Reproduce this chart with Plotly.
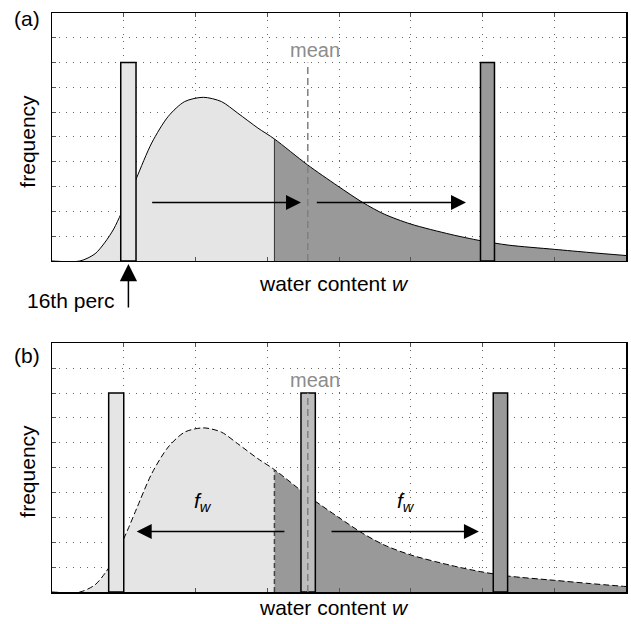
import plotly.graph_objects as go

# ---- data ----
curve_x = [0, 0.39, 0.6, 0.74, 0.86, 0.96, 1.07, 1.18, 1.39, 1.62, 1.85, 2.11, 2.36,
           2.59, 2.87, 3.1, 3.56, 3.98, 4.33, 4.63, 5.0, 5.56, 5.97, 6.36, 7.0, 7.5, 8.0]
curve_y = [0, 0, 0.29, 0.76, 1.29, 1.89, 2.6, 3.36, 4.76, 5.83, 6.43, 6.6, 6.43,
           5.96, 5.36, 4.92, 3.88, 3.03, 2.36, 1.89, 1.49, 1.07, 0.82, 0.64, 0.47, 0.34, 0.22]
threshold = 3.1
mean_w = 3.565

# bars: (left, right, height, colour)
bars_a = [(0.958, 1.171, 8, "#e5e5e5"), (5.972, 6.167, 8, "#999999")]
bars_b = [(0.79, 1.0, 8, "#e5e5e5"), (3.47, 3.67, 8, "#bdbdbd"), (6.15, 6.35, 8, "#999999")]

# arrows: (tail_x, tip_x, y)
arrows_a = [(1.375, 3.47, 2.36), (3.67, 5.77, 2.36)]
arrows_b = [(3.26, 1.18, 2.43), (3.875, 5.95, 2.43)]
perc16_x = 1.065

fw_pos = [(2.11, 3.63), (4.93, 3.63)]
mean_label = (3.667, 8.52)

x_grid = [1, 2, 3, 4, 5, 6, 7]
y_grid = [1, 2, 3, 4, 5, 6, 7, 8, 9]

LIGHT = "#e5e5e5"
DARK = "#999999"
FONT = "Liberation Sans, Arial, Helvetica, sans-serif"

k = curve_x.index(threshold)
left_x, left_y = curve_x[:k + 1], curve_y[:k + 1]
right_x, right_y = curve_x[k:], curve_y[k:]

fig = go.Figure()

for xa, ya, dash in (("x", "y", "solid"), ("x2", "y2", "6px,3px")):
    fig.add_trace(go.Scatter(x=left_x, y=left_y, xaxis=xa, yaxis=ya, mode="lines",
                             line=dict(width=0, shape="spline", smoothing=0.8),
                             fill="tozeroy", fillcolor=LIGHT, hoverinfo="skip"))
    fig.add_trace(go.Scatter(x=right_x, y=right_y, xaxis=xa, yaxis=ya, mode="lines",
                             line=dict(width=0, shape="spline", smoothing=0.8),
                             fill="tozeroy", fillcolor=DARK, hoverinfo="skip"))
    fig.add_trace(go.Scatter(x=curve_x, y=curve_y, xaxis=xa, yaxis=ya, mode="lines",
                             line=dict(width=1, color="black", shape="spline",
                                       smoothing=0.8, dash=dash),
                             hoverinfo="skip"))

shapes = []
shapes.append(dict(type="line", xref="x", yref="y", x0=threshold, x1=threshold,
                   y0=0, y1=curve_y[k], line=dict(color="#333333", width=1), layer="above"))
shapes.append(dict(type="line", xref="x2", yref="y2", x0=threshold, x1=threshold,
                   y0=0, y1=curve_y[k], line=dict(color="#444444", width=1.5, dash="5px,3px"),
                   layer="above"))
for (x0, x1, h, c) in bars_a:
    shapes.append(dict(type="rect", xref="x", yref="y", x0=x0, x1=x1, y0=0, y1=h,
                       fillcolor=c, line=dict(color="black", width=1.5), layer="above"))
for (x0, x1, h, c) in bars_b:
    shapes.append(dict(type="rect", xref="x2", yref="y2", x0=x0, x1=x1, y0=0, y1=h,
                       fillcolor=c, line=dict(color="black", width=1.5), layer="above"))
shapes.append(dict(type="line", xref="x", yref="y", x0=mean_w, x1=mean_w, y0=0, y1=8,
                   line=dict(color="#808080", width=1.5, dash="7px,4px"), layer="above"))
shapes.append(dict(type="line", xref="x2", yref="y2", x0=mean_w, x1=mean_w, y0=0, y1=8,
                   line=dict(color="#808080", width=1.5, dash="7px,4px"), layer="above"))


def txt(x, y, text, xref="paper", yref="paper", size=21, color="black", **kw):
    d = dict(x=x, y=y, xref=xref, yref=yref, text=text, showarrow=False,
             xanchor="center", yanchor="middle", font=dict(size=size, color=color))
    d.update(kw)
    return d


annotations = []
for (t, h, y) in arrows_a:
    annotations.append(dict(x=h, y=y, ax=t, ay=y, xref="x", yref="y", axref="x", ayref="y",
                            text="", showarrow=True, arrowhead=2, arrowsize=2.0,
                            arrowwidth=1.5, arrowcolor="black"))
for (t, h, y) in arrows_b:
    annotations.append(dict(x=h, y=y, ax=t, ay=y, xref="x2", yref="y2", axref="x2", ayref="y2",
                            text="", showarrow=True, arrowhead=2, arrowsize=2.0,
                            arrowwidth=1.5, arrowcolor="black"))
annotations.append(dict(x=perc16_x, y=0.5665, xref="x", yref="paper", ax=0, ay=45,
                        text="", showarrow=True, arrowhead=2, arrowsize=2.3,
                        arrowwidth=1.5, arrowcolor="black"))
annotations.append(txt(0.0339, 0.5026, "16th perc"))
annotations.append(txt(mean_label[0], mean_label[1], "mean", "x", "y", size=20, color="#8c8c8c"))
annotations.append(txt(mean_label[0], mean_label[1], "mean", "x2", "y2", size=20, color="#8c8c8c"))
for (fx, fy) in fw_pos:
    annotations.append(txt(fx, fy, "<i>f</i><sub><i>w</i></sub>", "x2", "y2", size=21))
annotations.append(txt(-0.0443, 0.991, "(a)"))
annotations.append(txt(-0.0443, 0.409, "(b)"))
for yy in (0.532, -0.026):
    annotations.append(txt(0.4905, yy, "water content <i>w</i>"))
for yy in (0.778, 0.208):
    annotations.append(txt(-0.0434, yy, "frequency", textangle=-90))

axis_common = dict(showline=True, linecolor="black", linewidth=1.5, mirror="ticks",
                   ticks="inside", ticklen=4, tickwidth=1, tickcolor="#555555",
                   showticklabels=False, showgrid=True, gridcolor="#666666",
                   gridwidth=1, griddash="1px,6px", zeroline=False, fixedrange=True)

fig.update_layout(
    width=631, height=624,
    margin=dict(l=52, r=3, t=13, b=32),
    paper_bgcolor="white", plot_bgcolor="white",
    showlegend=False,
    hovermode=False,
    font=dict(family=FONT, size=20, color="black"),
    xaxis=dict(domain=[0, 1], range=[0, 8], anchor="y", tickvals=x_grid, **axis_common),
    yaxis=dict(domain=[0.5717, 1], range=[0, 10], anchor="x", tickvals=y_grid, **axis_common),
    xaxis2=dict(domain=[0, 1], range=[0, 8], anchor="y2", tickvals=x_grid, **axis_common),
    yaxis2=dict(domain=[0, 0.4295], range=[0, 10], anchor="x2", tickvals=y_grid, **axis_common),
    shapes=shapes,
    annotations=annotations,
)

# remove the default page margin so the figure fills the window exactly
fig.write_html("out.html", config={"displayModeBar": False, "staticPlot": True},
               post_script="document.body.style.margin='0';document.body.style.overflow='hidden';")
